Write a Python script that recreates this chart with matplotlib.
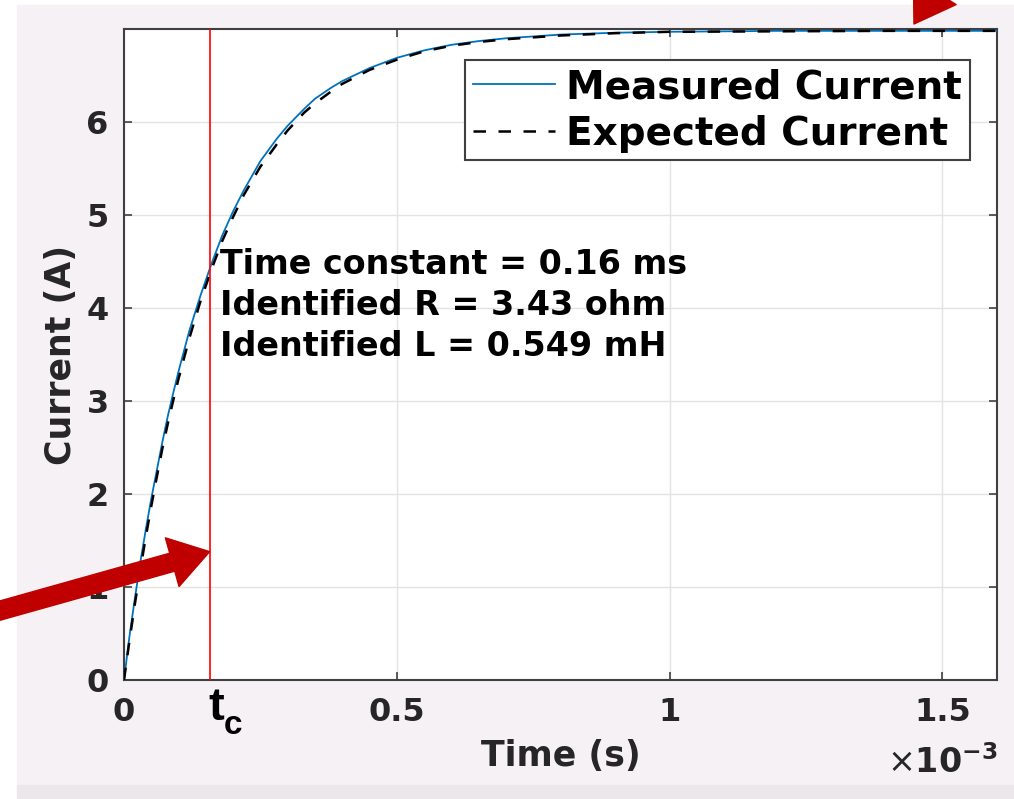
import matplotlib
matplotlib.use("Agg")
import matplotlib.pyplot as plt
from matplotlib.patches import Rectangle

# Zeit in ms (Achse wird in Sekunden gezeichnet), Strom in A
time_ms = [0, 0.01, 0.02, 0.03, 0.04, 0.05, 0.06, 0.07, 0.08, 0.09, 0.10,
           0.12, 0.14, 0.16, 0.18, 0.20, 0.22, 0.25, 0.28, 0.30, 0.33,
           0.35, 0.38, 0.40, 0.45, 0.50, 0.55, 0.60, 0.65, 0.70, 0.80,
           0.90, 1.00, 1.20, 1.40, 1.60]
measured = [0, 0.47, 0.88, 1.27, 1.62, 1.95, 2.25, 2.55, 2.83, 3.08, 3.32,
            3.76, 4.13, 4.47, 4.78, 5.04, 5.27, 5.58, 5.82, 5.96, 6.14,
            6.25, 6.37, 6.44, 6.58, 6.69, 6.77, 6.83, 6.87, 6.90, 6.94,
            6.96, 6.97, 6.98, 6.98, 6.98]
expected = [0, 0.42, 0.82, 1.19, 1.54, 1.87, 2.18, 2.48, 2.75, 3.00, 3.24,
            3.68, 4.07, 4.41, 4.72, 4.98, 5.22, 5.52, 5.76, 5.91, 6.10,
            6.20, 6.33, 6.41, 6.56, 6.67, 6.76, 6.82, 6.86, 6.89, 6.93,
            6.955, 6.97, 6.975, 6.98, 6.98]
tc_ms = 0.157

x_ticks = [0, 0.5, 1.0, 1.5]
x_ticklabels = ["0", "0.5", "1", "1.5"]
y_ticks = [0, 1, 2, 3, 4, 5, 6]

info_lines = ["Time constant = 0.16 ms",
              "Identified R = 3.43 ohm",
              "Identified L = 0.549 mH"]

W, H = 1014, 799
fig = plt.figure(figsize=(W / 100, H / 100), dpi=100, facecolor="white")

# Hintergrund wie im Screenshot
fig.patches.append(Rectangle((17 / W, 14 / H), 1, 1 - 19 / H,
                             transform=fig.transFigure, color="#f5f1f5", zorder=-10))
fig.patches.append(Rectangle((17 / W, 0), 1, 14 / H,
                             transform=fig.transFigure, color="#ebe7eb", zorder=-10))

ax = fig.add_axes([124 / W, 119 / H, 873 / W, 651 / H])
ax.set_facecolor("white")

t = [v * 1e-3 for v in time_ms]
ax.plot(t, measured, color="#0072BD", lw=1.3, label="Measured Current", zorder=3)
ax.plot(t, expected, color="black", lw=1.8, ls=(0, (5, 5)), label="Expected Current", zorder=4)
ax.axvline(tc_ms * 1e-3, color="#ff0000", lw=1.2, zorder=5)

ax.set_xlim(0, 1.6e-3)
ax.set_ylim(0, 7)
ax.set_xticks([v * 1e-3 for v in x_ticks])
ax.set_xticklabels(x_ticklabels)
ax.set_yticks(y_ticks)

ax.grid(True, color="#e3e3e3", lw=1.0)
ax.set_axisbelow(True)
for s in ax.spines.values():
    s.set_color("#404040")
    s.set_linewidth(1.5)
ax.tick_params(direction="in", length=6, width=1.2, color="#404040",
               top=True, right=True, labelsize=23, labelcolor="#262626")
ax.tick_params(axis="x", pad=12)
ax.tick_params(axis="y", pad=11)
for lab in ax.get_xticklabels() + ax.get_yticklabels():
    lab.set_fontweight("bold")

ax.set_xlabel("Time (s)", fontsize=25, fontweight="bold", color="#262626", labelpad=8)
ax.set_ylabel("Current (A)", fontsize=25, fontweight="bold", color="#262626", labelpad=6)

fig.text(998 / W, 1 - 763 / H, r"$\times\mathbf{10}^{\mathbf{-3}}$", fontsize=24,
         color="#262626", ha="right", va="center")

ax.text(0.1755e-3, 4.03, "\n".join(info_lines), fontsize=24, fontweight="bold",
        va="center", ha="left", linespacing=1.3, zorder=6)

leg = ax.legend(loc="upper right", bbox_to_anchor=(0.969, 0.952),
                prop={"weight": "bold", "size": 28}, fancybox=False, framealpha=1,
                edgecolor="#404040", handlelength=2.1, handletextpad=0.3,
                labelspacing=0.22, borderpad=0.2, borderaxespad=0)
leg.get_frame().set_linewidth(1.5)

# t_c unter der roten Linie
fig.text(208 / W, 1 - 708 / H, "t", fontsize=34, fontweight="bold",
         family="Liberation Sans", ha="left", va="center")
fig.text(224 / W, 1 - 725 / H, "c", fontsize=24, fontweight="bold",
         family="Liberation Sans", ha="left", va="center")

# rote Pfeile
arrow_style = dict(arrowstyle="simple,head_length=1.0,head_width=1.3,tail_width=0.48",
                   color="#c00000", shrinkA=0, shrinkB=0, mutation_scale=28)
ax.annotate("", xy=(tc_ms * 1e-3, 1.38), xycoords="data",
            xytext=(-5, H - 612), textcoords="figure pixels",
            arrowprops=arrow_style, annotation_clip=False, zorder=10)
ax.annotate("", xy=(914, H - 24), xycoords="figure pixels",
            xytext=(1030, H + 160), textcoords="figure pixels",
            arrowprops=arrow_style, annotation_clip=False, zorder=10)

fig.savefig("out.png", dpi=100, facecolor=fig.get_facecolor())
